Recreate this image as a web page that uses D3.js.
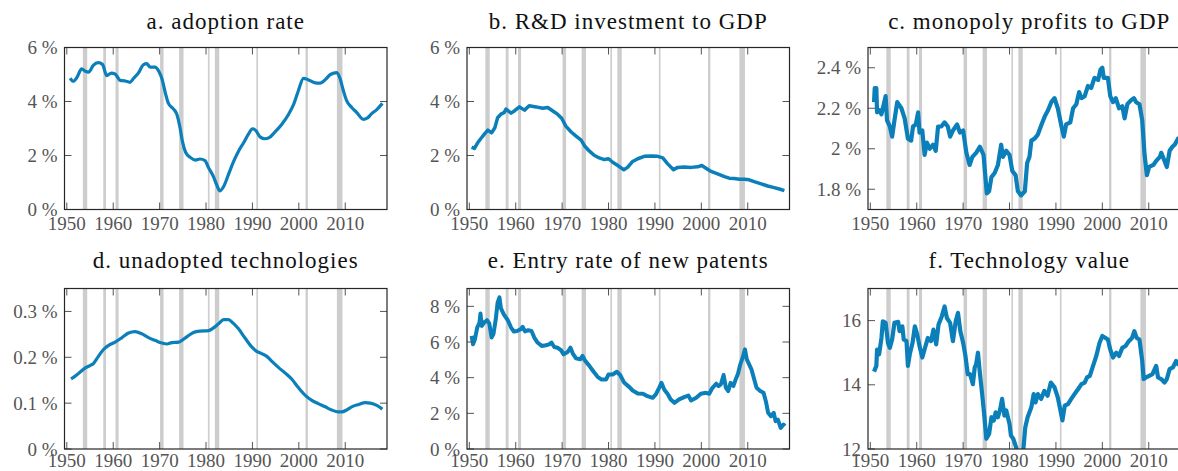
<!DOCTYPE html>
<html>
<head>
<meta charset="utf-8">
<script src="https://cdn.jsdelivr.net/npm/d3@7"></script>
<style>
  body { margin: 0; background: #fff; }
</style>
</head>
<body>
<svg id="chart" width="1178" height="471"></svg>
<script>
// values, [year, value]
var adoptionRate = [[1950.7,4.86],[1951.4,4.75],[1952.2,4.9],[1953.2,5.21],[1954,5.12],[1954.7,5.09],[1955.7,5.34],[1956.8,5.44],[1957.7,5.37],[1958.6,4.96],[1959.6,5.05],[1960.4,5.02],[1961.5,4.78],[1962.6,4.76],[1963.6,4.71],[1964.4,4.86],[1965.4,5.05],[1966.5,5.36],[1967.2,5.40],[1968,5.27],[1969,5.27],[1969.9,5.09],[1970.5,4.84],[1971.2,4.34],[1971.9,3.93],[1973,3.72],[1973.7,3.53],[1974.4,3.03],[1974.9,2.53],[1975.6,2.12],[1976.6,1.93],[1977.7,1.83],[1978.7,1.87],[1979.8,1.81],[1980.5,1.56],[1981.6,1.22],[1982.3,0.91],[1983,0.69],[1983.8,0.85],[1984.8,1.28],[1985.9,1.76],[1987,2.16],[1988.1,2.47],[1989.2,2.81],[1990,2.99],[1990.7,2.93],[1991.7,2.68],[1992.7,2.62],[1993.6,2.66],[1994.9,2.88],[1996.3,3.15],[1997.8,3.53],[1998.9,3.90],[1999.9,4.40],[2001,4.86],[2002.1,4.80],[2003.5,4.69],[2004.6,4.68],[2005.7,4.81],[2006.8,5.0],[2008.2,5.07],[2008.9,4.84],[2009.6,4.40],[2010.3,4.03],[2011.4,3.78],[2012.5,3.59],[2013.9,3.34],[2014.7,3.38],[2015.7,3.55],[2016.8,3.70],[2018,3.93]];

var rdToGdp = [[1950.5,2.31],[1951.1,2.26],[1951.8,2.47],[1952.5,2.63],[1953.2,2.78],[1954,2.94],[1954.8,2.84],[1955.5,3.03],[1956.1,3.40],[1956.8,3.53],[1957.5,3.59],[1957.9,3.72],[1959,3.57],[1959.7,3.65],[1960.8,3.80],[1961.9,3.68],[1962.9,3.84],[1964.4,3.80],[1965.8,3.75],[1966.9,3.78],[1968,3.65],[1969,3.53],[1969.9,3.38],[1970.8,3.09],[1971.9,2.88],[1973,2.72],[1974.1,2.57],[1974.9,2.34],[1975.9,2.16],[1976.9,2.01],[1978,1.91],[1979.1,1.85],[1980,1.88],[1980.9,1.75],[1982,1.63],[1983.3,1.47],[1984.1,1.56],[1985.2,1.78],[1986.3,1.88],[1987.7,1.97],[1989.2,1.98],[1990.6,1.97],[1991.7,1.91],[1992.7,1.70],[1994,1.47],[1994.9,1.56],[1996.3,1.57],[1997.8,1.56],[1999.2,1.58],[2000.1,1.63],[2001,1.53],[2002.1,1.41],[2003.5,1.32],[2005,1.22],[2006,1.16],[2007.1,1.15],[2008.2,1.12],[2009.3,1.12],[2010.3,1.10],[2011.4,1.03],[2012.9,0.95],[2014.3,0.87],[2015.7,0.81],[2016.8,0.76],[2017.9,0.70]];

var monopolyProfits = [[1950.8,2.23],[1950.95,2.30],[1951.3,2.30],[1951.45,2.18],[1952,2.19],[1952.4,2.17],[1952.9,2.22],[1953.3,2.26],[1953.6,2.14],[1954.2,2.11],[1954.7,2.06],[1955.2,2.14],[1955.8,2.23],[1956.7,2.20],[1957.4,2.15],[1958.1,2.05],[1958.8,2.04],[1959.2,2.11],[1959.8,2.12],[1960.3,2.18],[1960.6,2.08],[1961.2,2.09],[1961.7,1.97],[1962.2,2.03],[1962.8,2.0],[1963.5,2.02],[1964.1,1.99],[1964.6,2.11],[1965.3,2.11],[1966,2.13],[1966.7,2.11],[1967.2,2.06],[1967.8,2.09],[1968.7,2.12],[1969.3,2.08],[1970,2.09],[1970.7,1.98],[1971.4,1.92],[1972,1.96],[1972.8,1.98],[1973.6,2.01],[1974.4,1.97],[1975.1,1.78],[1975.6,1.79],[1976.1,1.86],[1976.8,1.88],[1977.5,1.92],[1978.2,2.02],[1978.6,1.96],[1979.3,1.99],[1980,1.97],[1980.6,1.89],[1981.3,1.87],[1981.8,1.79],[1982.5,1.77],[1983.3,1.79],[1983.8,1.93],[1984.3,1.96],[1984.7,2.04],[1985.4,2.05],[1986.1,2.07],[1986.9,2.12],[1987.6,2.16],[1988.3,2.19],[1989,2.23],[1989.7,2.25],[1990.4,2.20],[1991.2,2.11],[1991.7,2.06],[1992.2,2.12],[1993.1,2.13],[1993.7,2.20],[1994.4,2.22],[1995,2.28],[1995.5,2.25],[1996.2,2.26],[1996.9,2.31],[1997.6,2.30],[1998.3,2.35],[1999.1,2.34],[1999.6,2.39],[2000,2.40],[2000.3,2.35],[2001.2,2.35],[2001.7,2.26],[2002.3,2.23],[2002.9,2.25],[2003.6,2.20],[2004.3,2.21],[2004.8,2.15],[2005.4,2.22],[2006.2,2.24],[2006.8,2.25],[2007.3,2.23],[2008,2.22],[2008.6,2.14],[2009.1,1.97],[2009.6,1.87],[2010.1,1.91],[2011,1.92],[2011.6,1.94],[2012.4,1.96],[2012.7,1.98],[2013.4,1.94],[2013.9,1.91],[2014.5,1.99],[2015.1,2.01],[2015.6,2.02],[2016.3,2.05],[2017,2.06],[2018,2.08]];

var unadoptedTech = [[1950.9,0.153],[1951.8,0.159],[1952.9,0.168],[1954,0.177],[1955,0.182],[1955.7,0.186],[1956.8,0.202],[1957.9,0.217],[1959,0.226],[1960.4,0.233],[1961.9,0.243],[1963.3,0.253],[1964.7,0.256],[1966.2,0.251],[1967.6,0.243],[1969,0.237],[1970.5,0.231],[1971.6,0.229],[1972.6,0.232],[1974.1,0.233],[1974.8,0.237],[1975.9,0.245],[1977.3,0.254],[1978.7,0.257],[1980.5,0.258],[1981.6,0.264],[1982.7,0.273],[1983.8,0.282],[1984.8,0.282],[1985.9,0.274],[1987,0.262],[1988.4,0.242],[1989.9,0.222],[1990.9,0.213],[1992,0.208],[1993.1,0.202],[1994.2,0.191],[1995.6,0.178],[1997,0.166],[1998.5,0.152],[1999.9,0.134],[2001.4,0.117],[2002.8,0.106],[2004.2,0.099],[2005.7,0.092],[2007.1,0.085],[2008.5,0.081],[2009.3,0.081],[2010.3,0.085],[2011.4,0.092],[2012.9,0.097],[2014.3,0.101],[2015.4,0.100],[2016.8,0.095],[2018,0.087]];

var patentEntry = [[1950.5,6.34],[1950.8,5.87],[1951.2,6.15],[1951.7,6.81],[1952.2,7.09],[1952.4,7.6],[1952.7,6.9],[1953.2,7.09],[1953.8,7.22],[1954.3,7.04],[1954.8,6.25],[1955.2,6.44],[1955.7,7.28],[1956.1,8.22],[1956.5,8.5],[1956.8,7.9],[1957.4,7.56],[1957.9,7.37],[1958.3,7.22],[1959,6.81],[1959.6,6.59],[1960.3,6.62],[1961.1,6.72],[1961.5,6.85],[1962,6.59],[1962.7,6.66],[1963.4,6.62],[1964,6.25],[1964.7,5.97],[1965.6,5.78],[1966.5,5.82],[1967.2,5.87],[1967.7,5.97],[1968.3,5.72],[1969,5.68],[1969.8,5.53],[1970.3,5.31],[1971.2,5.44],[1971.8,5.68],[1972.3,5.35],[1973,5.08],[1973.9,5.03],[1974.4,5.22],[1974.9,4.97],[1975.9,4.65],[1976.8,4.33],[1977.7,4.03],[1978.5,3.9],[1979.5,3.9],[1980,4.18],[1980.9,4.18],[1981.8,4.33],[1982.5,4.15],[1983.4,3.71],[1984.5,3.47],[1985.2,3.28],[1986.3,3.11],[1987.4,3.10],[1988.4,2.96],[1989.5,2.87],[1990.2,3.06],[1990.9,3.43],[1991.4,3.71],[1992,3.34],[1992.8,3.06],[1993.4,2.78],[1994.2,2.59],[1995.2,2.78],[1996.3,2.91],[1997.2,3.0],[1997.8,2.72],[1998.9,2.87],[1999.9,3.10],[2001,3.15],[2001.7,3.10],[2002.4,3.43],[2003.2,3.66],[2003.7,3.53],[2004.2,3.62],[2004.8,4.15],[2005.3,3.43],[2005.8,3.25],[2006.3,3.71],[2006.9,3.53],[2007.4,3.90],[2007.9,4.22],[2008.4,4.75],[2008.9,5.12],[2009.4,5.59],[2009.8,5.03],[2010.3,4.75],[2010.8,4.47],[2011.4,3.90],[2011.9,3.43],[2012.7,3.25],[2013.4,3.15],[2013.9,2.68],[2014.4,2.03],[2015,1.84],[2015.6,2.03],[2016,1.56],[2016.5,1.65],[2017.1,1.18],[2017.7,1.37],[2018,1.28]];

var techValue = [[1950.8,14.41],[1951.3,14.59],[1951.45,15.1],[1951.9,14.95],[1952.4,15.46],[1952.7,15.98],[1953.3,15.93],[1953.8,15.31],[1954.2,15.15],[1954.7,15.41],[1955.2,15.93],[1956,15.96],[1956.3,15.67],[1956.9,15.82],[1957.2,15.41],[1957.8,15.36],[1958.1,14.59],[1958.5,14.95],[1959.1,15.31],[1959.6,15.82],[1960.1,15.57],[1960.6,15.21],[1961.2,14.85],[1961.9,15.21],[1962.4,15.46],[1963.1,15.36],[1963.6,15.72],[1964.2,15.26],[1964.7,15.88],[1965.4,16.13],[1966,16.44],[1966.5,16.08],[1967.2,15.93],[1967.8,15.36],[1968.4,15.98],[1968.9,16.24],[1969.4,15.67],[1970,15.31],[1970.5,14.9],[1971,14.33],[1971.5,14.33],[1972.1,14.02],[1972.5,14.54],[1972.8,14.64],[1973.2,15.0],[1973.6,14.38],[1974.1,13.71],[1974.6,12.99],[1975,12.32],[1975.6,12.47],[1976.1,12.99],[1976.6,12.89],[1977,13.14],[1977.5,12.99],[1978,13.25],[1978.4,13.56],[1978.9,13.04],[1979.3,13.2],[1980,12.78],[1980.3,12.42],[1980.8,12.32],[1981.4,12.06],[1981.8,11.86],[1982.5,11.55],[1982.9,11.86],[1983.4,12.68],[1983.9,12.99],[1984.7,13.3],[1985.2,13.71],[1985.6,13.45],[1986.1,13.71],[1986.8,13.56],[1987.5,13.81],[1988.2,13.66],[1988.9,14.07],[1989.7,13.92],[1990.4,13.61],[1990.9,13.25],[1991.4,12.89],[1991.9,13.35],[1992.6,13.4],[1993.3,13.56],[1994,13.71],[1994.8,13.87],[1995.5,14.02],[1996.2,14.07],[1996.7,14.23],[1997.3,14.28],[1998,14.59],[1998.7,14.9],[1999.4,15.31],[2000,15.52],[2000.7,15.46],[2001.2,15.41],[2001.7,15.1],[2002.3,14.85],[2003,15.0],[2003.6,14.9],[2004.3,15.15],[2005,15.21],[2005.7,15.36],[2006.4,15.46],[2006.9,15.67],[2007.4,15.46],[2008,15.41],[2008.6,14.74],[2008.9,14.18],[2009.4,14.23],[2010.1,14.28],[2010.8,14.33],[2011.6,14.59],[2012,14.23],[2012.7,14.18],[2013.4,14.07],[2013.9,14.18],[2014.5,14.49],[2015.2,14.54],[2015.9,14.74],[2016.3,14.64],[2017,14.8],[2018,14.9]];

// recession shading, [start, end]
var recessions = [[1953.45,1954.4],[1957.85,1958.45],[1960.5,1961.15],[1970.1,1970.85],[1974.2,1975.15],[1980.4,1980.75],[1981.9,1982.85],[1990.85,1991.2],[2001.45,2001.95],[2008.2,2009.4]];

var yearTicks = [1950, 1960, 1970, 1980, 1990, 2000, 2010];

var panels = [
  { title: 'a. adoption rate', data: adoptionRate, domain: [0, 6], ticks: [0, 2, 4, 6], unit: ' %', col: 0, row: 0, smooth: true, width: 3.2 },
  { title: 'b. R&D investment to GDP', data: rdToGdp, domain: [0, 6], ticks: [0, 2, 4, 6], unit: ' %', col: 1, row: 0, width: 3.5 },
  { title: 'c. monopoly profits to GDP', data: monopolyProfits, domain: [1.7, 2.5], ticks: [1.8, 2, 2.2, 2.4], unit: ' %', col: 2, row: 0, width: 4.2 },
  { title: 'd. unadopted technologies', data: unadoptedTech, domain: [0, 0.35], ticks: [0, 0.1, 0.2, 0.3], unit: ' %', col: 0, row: 1, smooth: true, width: 3.2 },
  { title: 'e. Entry rate of new patents', data: patentEntry, domain: [0, 9], ticks: [0, 2, 4, 6, 8], unit: ' %', col: 1, row: 1, width: 4 },
  { title: 'f. Technology value', data: techValue, domain: [12, 17], ticks: [12, 14, 16], unit: '', col: 2, row: 1, width: 4.2 }
];

var FONT = 'Liberation Serif';
var colLeft = [64.5, 467, 868];
var rowTop = [47.5, 288.5];
var rowHeight = [162, 160.5];
var boxWidth = 322.5;
var titleBase = [29, 268];
var labelDrop = [20, 18];
var tickLen = 7;

var svg = d3.select('#chart');

panels.forEach(function(p, i){
  var x0 = colLeft[p.col], y0 = rowTop[p.row], h = rowHeight[p.row];

  var x = d3.scaleLinear().domain([1949.5, 2019]).range([x0, x0 + boxWidth]);
  var y = d3.scaleLinear().domain(p.domain).range([y0 + h, y0]);

  var g = svg.append('g');

  // clip marks to the plot box
  svg.append('clipPath').attr('id', 'clip' + i)
    .append('rect')
    .attr('x', x0).attr('y', y0)
    .attr('width', boxWidth).attr('height', h);

  var inner = g.append('g').attr('clip-path', 'url(#clip' + i + ')');

  inner.selectAll('rect.rec')
    .data(recessions)
    .enter().append('rect')
    .attr('class', 'rec')
    .attr('x', function(d){ return x(d[0]); })
    .attr('width', function(d){ return x(d[1]) - x(d[0]); })
    .attr('y', y0)
    .attr('height', h)
    .attr('fill', '#cdcdcd');

  var line = d3.line()
    .x(function(d){ return x(d[0]); })
    .y(function(d){ return y(d[1]); })
    .curve(p.smooth ? d3.curveMonotoneX : d3.curveLinear);

  inner.append('path')
    .datum(p.data)
    .attr('d', line)
    .attr('fill', 'none')
    .attr('stroke', '#0b7fb9')
    .attr('stroke-width', p.width)
    .attr('stroke-linejoin', 'round');

  // ticks on all four sides, pointing inward
  var tickCol = '#555';
  var yt = g.selectAll('g.yt').data(p.ticks).enter().append('g').attr('class', 'yt');
  yt.append('line')
    .attr('x1', x0).attr('x2', x0 + tickLen)
    .attr('y1', function(d){ return y(d); }).attr('y2', function(d){ return y(d); })
    .attr('stroke', tickCol);
  yt.append('line')
    .attr('x1', x0 + boxWidth - tickLen).attr('x2', x0 + boxWidth)
    .attr('y1', function(d){ return y(d); }).attr('y2', function(d){ return y(d); })
    .attr('stroke', tickCol);
  yt.append('text')
    .attr('x', x0 - 7)
    .attr('y', function(d){ return y(d); })
    .attr('dy', '0.35em')
    .attr('text-anchor', 'end')
    .attr('font-family', FONT)
    .attr('font-size', 19)
    .attr('fill', '#555')
    .text(function(d){ return d + p.unit; });

  var xt = g.selectAll('g.xt').data(yearTicks).enter().append('g').attr('class', 'xt');
  xt.append('line')
    .attr('x1', function(d){ return x(d); }).attr('x2', function(d){ return x(d); })
    .attr('y1', y0 + h - tickLen).attr('y2', y0 + h)
    .attr('stroke', tickCol);
  xt.append('line')
    .attr('x1', function(d){ return x(d); }).attr('x2', function(d){ return x(d); })
    .attr('y1', y0).attr('y2', y0 + tickLen)
    .attr('stroke', tickCol);
  xt.append('text')
    .attr('x', function(d){ return x(d); })
    .attr('y', y0 + h + labelDrop[p.row])
    .attr('text-anchor', 'middle')
    .attr('font-family', FONT)
    .attr('font-size', 19)
    .attr('fill', '#555')
    .text(function(d){ return d; });

  g.append('rect')
    .attr('x', x0).attr('y', y0)
    .attr('width', boxWidth).attr('height', h)
    .attr('fill', 'none')
    .attr('stroke', '#262626')
    .attr('stroke-width', 1.2);

  g.append('text')
    .attr('x', x0 + boxWidth / 2)
    .attr('y', titleBase[p.row])
    .attr('text-anchor', 'middle')
    .attr('font-family', FONT)
    .attr('font-size', 23)
    .attr('letter-spacing', 1)
    .attr('fill', '#111')
    .text(p.title);
});
</script>
</body>
</html>
